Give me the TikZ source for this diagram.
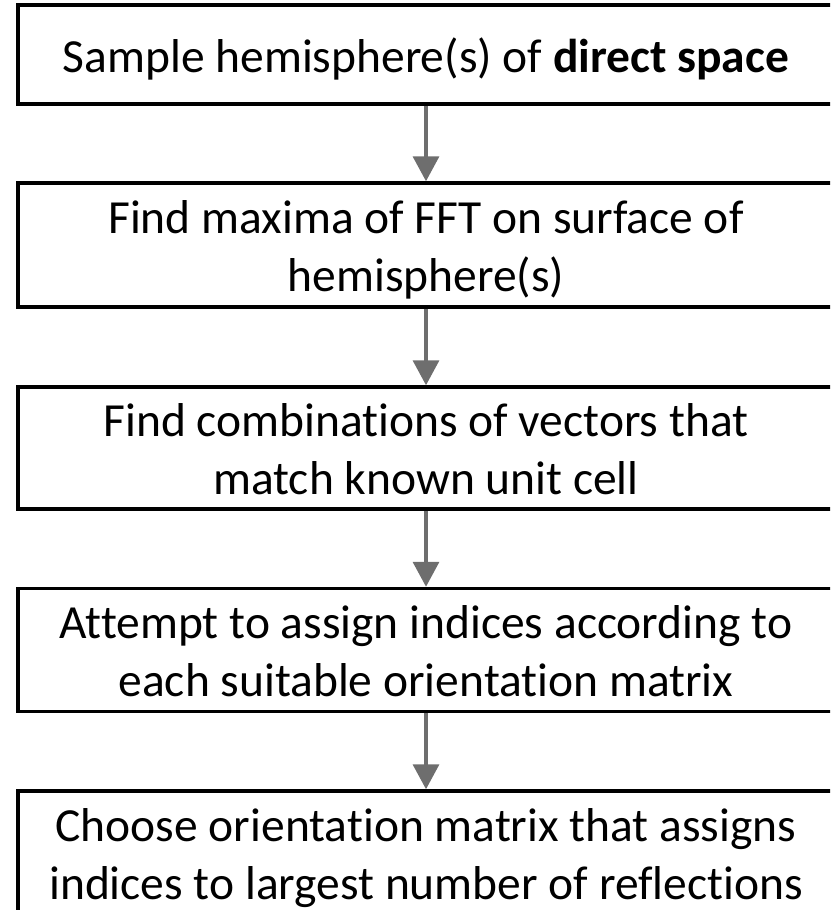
\documentclass[tikz,border=0pt]{standalone}
\usepackage{fontspec}
\setmainfont{Carlito}[Ligatures=NoCommon]
\usetikzlibrary{arrows.meta}
\begin{document}
\begin{tikzpicture}[x=1pt,y=-1pt,
  stepbox/.style={draw=black,line width=3.5pt,minimum width=816pt,inner sep=0pt,
    align=center,font=\fontsize{47.5}{58}\selectfont,text height=92pt,text depth=0pt},
  onebox/.style={stepbox,text height=36pt,text depth=0pt},
  flow/.style={draw=black!57,line width=3.5pt,-{Triangle[width=26pt,length=25pt]}}]
\useasboundingbox (0,0) rectangle (830,910);
\clip (0,0) rectangle (830,910);
\node[onebox,minimum height=99pt] (b1) at (426,54.5) {Sample hemisphere(s) of \textbf{direct space}};
\node[stepbox,minimum height=124pt] (b2) at (426,245) {Find maxima of FFT on surface of\\hemisphere(s)};
\node[stepbox,minimum height=122pt] (b3) at (426,448) {Find combinations of vectors that\\match known unit cell};
\node[stepbox,minimum height=123pt] (b4) at (426,650) {Attempt to assign indices according to\\each suitable orientation matrix};
\node[stepbox,minimum height=124pt] (b5) at (426,853) {Choose orientation matrix that assigns\\indices to largest number of reflections};
\draw[flow] (b1.south) -- (b2.north);
\draw[flow] (b2.south) -- (b3.north);
\draw[flow] (b3.south) -- (b4.north);
\draw[flow] (b4.south) -- (b5.north);
\end{tikzpicture}
\end{document}
